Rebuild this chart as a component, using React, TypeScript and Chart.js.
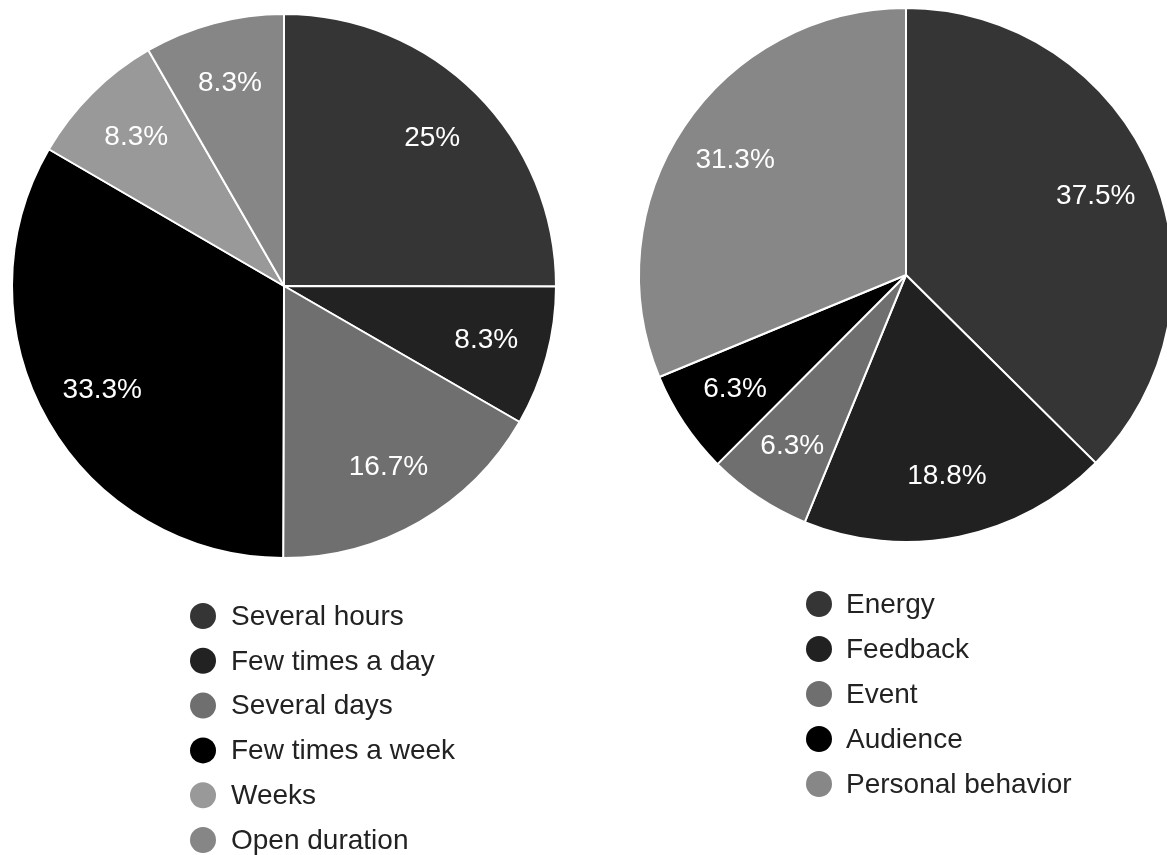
import React, { useEffect, useRef } from "react";
import { Chart, registerables } from "chart.js";

Chart.register(...registerables);

const leftLabels = ["Several hours", "Few times a day", "Several days", "Few times a week", "Weeks", "Open duration"];
const leftValues = [25, 8.3, 16.7, 33.3, 8.3, 8.3];
const leftColors = ["#353535", "#222222", "#6f6f6f", "#000000", "#999999", "#868686"];

const rightLabels = ["Energy", "Feedback", "Event", "Audience", "Personal behavior"];
const rightValues = [37.5, 18.8, 6.3, 6.3, 31.3];
const rightColors = ["#353535", "#212121", "#6f6f6f", "#000000", "#878787"];

const FONT = "'Liberation Sans', Arial, Helvetica, sans-serif";

const sliceLabelPlugin = {
  id: "sliceLabels",
  afterDatasetsDraw(chart: any, _args: any, opts: any) {
    const ctx = chart.ctx;
    const meta = chart.getDatasetMeta(0);
    const values = chart.data.datasets[0].data;
    ctx.save();
    ctx.fillStyle = "#ffffff";
    ctx.font = `28px ${FONT}`;
    ctx.textAlign = "center";
    ctx.textBaseline = "middle";
    meta.data.forEach((arc: any, i: number) => {
      const p = arc.getProps(["x", "y", "startAngle", "endAngle", "outerRadius"], true);
      const mid = (p.startAngle + p.endAngle) / 2;
      const r = p.outerRadius * (opts.factor || 0.77);
      ctx.fillText(`${values[i]}%`, p.x + Math.cos(mid) * r, p.y + Math.sin(mid) * r);
    });
    ctx.restore();
  },
};

const columnLegendPlugin = {
  id: "columnLegend",
  afterDraw(chart: any, _args: any, opts: any) {
    const ctx = chart.ctx;
    const labels = chart.data.labels;
    const colors = chart.data.datasets[0].backgroundColor;
    ctx.save();
    ctx.font = `28px ${FONT}`;
    ctx.textAlign = "left";
    ctx.textBaseline = "middle";
    labels.forEach((lab: string, i: number) => {
      const y = opts.y + i * opts.step;
      ctx.beginPath();
      ctx.fillStyle = colors[i];
      ctx.arc(opts.cx, y, 13, 0, Math.PI * 2);
      ctx.fill();
      ctx.fillStyle = "#222222";
      ctx.fillText(lab, opts.tx, y + 1);
    });
    ctx.restore();
  },
};

function PieChart(props: {
  labels: string[];
  values: number[];
  colors: string[];
  width: number;
  padding: any;
  radius: number;
  legend: any;
  left: number;
}) {
  const ref = useRef<HTMLCanvasElement>(null);
  useEffect(() => {
    if (!ref.current) return;
    const chart = new Chart(ref.current, {
      type: "pie",
      data: {
        labels: props.labels,
        datasets: [
          {
            data: props.values,
            backgroundColor: props.colors,
            borderColor: "#ffffff",
            borderWidth: 2,
            radius: props.radius,
          } as any,
        ],
      },
      options: {
        responsive: false,
        animation: false,
        events: [],
        layout: { padding: props.padding },
        plugins: {
          legend: { display: false },
          tooltip: { enabled: false },
          sliceLabels: { factor: 0.77 },
          columnLegend: props.legend,
        } as any,
      },
      plugins: [sliceLabelPlugin, columnLegendPlugin],
    });
    return () => chart.destroy();
  }, []);
  return (
    <canvas
      ref={ref}
      width={props.width}
      height={855}
      style={{ position: "absolute", left: props.left, top: 0, width: props.width, height: 855 }}
    />
  );
}

export default function App() {
  return (
    <div style={{ position: "absolute", left: 0, top: 0, width: 1167, height: 855, background: "#ffffff", overflow: "hidden" }}>
      <PieChart
        labels={leftLabels}
        values={leftValues}
        colors={leftColors}
        width={583}
        left={0}
        radius={272}
        padding={{ left: 0, right: 15, top: 0, bottom: 283 }}
        legend={{ cx: 203, tx: 231, y: 616, step: 44.8 }}
      />
      <PieChart
        labels={rightLabels}
        values={rightValues}
        colors={rightColors}
        width={584}
        left={583}
        radius={267}
        padding={{ left: 62, right: 0, top: 0, bottom: 305 }}
        legend={{ cx: 236, tx: 263, y: 604, step: 45 }}
      />
    </div>
  );
}
